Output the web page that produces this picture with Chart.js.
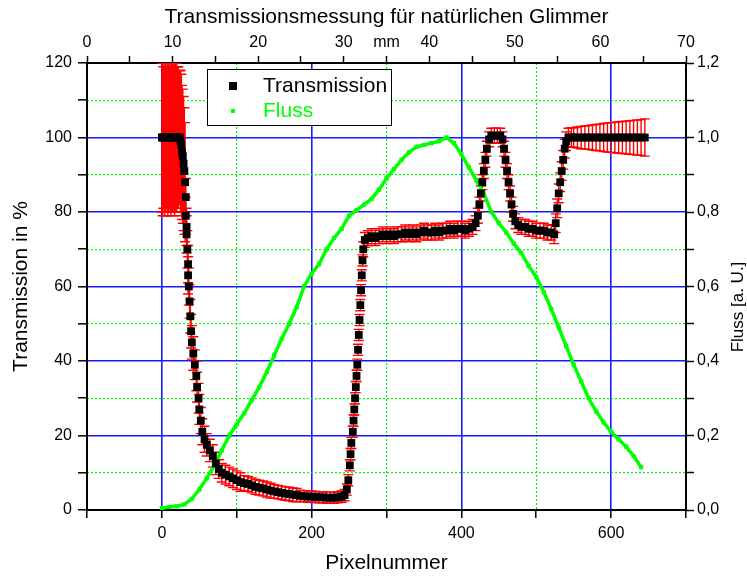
<!DOCTYPE html>
<html>
<head>
<meta charset="utf-8">
<script src="https://cdn.jsdelivr.net/npm/chart.js@4.4.1/dist/chart.umd.min.js"></script>
<style>
  html, body { margin: 0; padding: 0; background: #fff; }
  canvas { display: block; }
</style>
</head>
<body>
<canvas id="chart" width="747" height="576"></canvas>
<script>
// Transmission (black squares, left axis) with red error bars
const transPixel = [
  0, 1, 2, 3, 4, 5, 6, 7, 8, 9, 10, 11, 12, 13, 14, 15, 16, 17, 18, 19,
  20, 21, 22, 23, 24, 25, 26, 27, 28, 29, 30, 31, 32, 32, 33, 33, 34, 35, 35, 36,
  37, 38, 39, 40, 42, 44, 46, 47, 49, 50, 52, 54, 57, 60, 64, 68, 72, 76, 80, 85,
  90, 95, 100, 105, 110, 115, 120, 125, 130, 135, 140, 145, 150, 155, 160, 165, 170, 175, 180, 185,
  190, 195, 200, 205, 210, 215, 220, 225, 230, 235, 240, 244, 247, 249, 251, 252, 253, 255, 256, 257,
  258, 259, 260, 261, 262, 263, 264, 265, 266, 267, 268, 269, 271, 275, 280, 285, 290, 295, 300, 305,
  310, 315, 320, 325, 330, 335, 340, 345, 350, 355, 360, 365, 370, 375, 380, 385, 390, 395, 400, 405,
  410, 415, 419, 422, 424, 426, 428, 430, 432, 434, 437, 440, 444, 448, 452, 455, 457, 459, 461, 463,
  465, 467, 469, 472, 476, 480, 485, 490, 495, 500, 505, 510, 515, 520, 524, 526, 528, 530, 532, 534,
  536, 538, 540, 543, 547, 550, 555, 560, 565, 570, 575, 580, 585, 590, 595, 600, 605, 610, 615, 620,
  625, 630, 635, 640, 645
];
const transValue = [
  100, 100, 100, 100, 100, 100, 100, 100, 100, 100, 100, 100, 100, 100, 100, 100, 100, 100, 100, 100,
  100, 100, 100, 100, 100, 99, 98, 96, 95, 93, 91, 88, 84, 79, 76, 74, 70, 66, 63, 60,
  56, 52, 48, 45, 42, 39, 36, 33, 30, 27, 24, 21, 19, 17.5, 16, 14.5, 12.5, 11, 10, 9.5,
  9, 8.5, 8, 7.5, 7.2, 7, 6.6, 6.2, 6, 5.8, 5.5, 5.2, 5, 4.8, 4.6, 4.4, 4.3, 4.1, 4, 3.8,
  3.7, 3.6, 3.6, 3.5, 3.4, 3.4, 3.3, 3.3, 3.3, 3.4, 3.6, 4, 5.5, 8, 12, 15, 18, 21, 24, 27,
  30, 33, 36, 39, 43, 47, 51, 55, 59, 63, 67, 70, 72.5, 73, 73.5, 73, 73.5, 74, 73.5, 74,
  73.5, 74, 74, 74.5, 74, 74.5, 74, 74.5, 75, 74.5, 74.5, 75, 74.5, 75, 75, 75.5, 75, 75.5, 75.5, 75,
  75.5, 76, 77, 79, 82, 85, 88, 91, 94, 97, 99.5, 100.5, 100.5, 100.5, 100.5, 99.5, 97, 94, 91, 88,
  85, 82, 79.5, 77.5, 76.5, 76, 76, 75.5, 75.5, 75, 75, 75, 74.5, 74.5, 74, 77, 81, 85, 88, 91,
  94, 97, 99, 100, 100, 100, 100, 100, 100, 100, 100, 100, 100, 100, 100, 100, 100, 100, 100, 100,
  100, 100, 100, 100, 100
];
const transError = [
  20, 21, 19, 20, 21, 20, 19, 20, 21, 20, 19, 20, 21, 20, 20, 19, 20, 21, 20, 19,
  20, 19, 19, 18, 18, 19, 19, 18, 18, 18, 17, 16, 5, 5, 5, 5, 5, 5, 5, 5,
  4.5, 4.5, 4.5, 4.5, 4.5, 4, 4, 4, 4, 4, 3.5, 3.5, 3.5, 3, 3, 3, 3, 2.5, 2.5, 2.5,
  2.5, 2.5, 2.5, 2.5, 2, 2, 2, 2, 2, 2, 2, 2, 1.8, 1.8, 1.8, 1.8, 1.8, 1.8, 1.8, 1.5,
  1.5, 1.5, 1.5, 1.5, 1.5, 1.5, 1.5, 1.5, 1.5, 1.5, 1.5, 1.5, 1.5, 1.5, 1.5, 1.5, 1.5, 1.5, 1.5, 1.5,
  1.5, 1.5, 1.5, 1.5, 1.5, 1.5, 1.5, 1.5, 1.5, 1.5, 1.5, 2, 2, 2, 2, 2, 2, 2, 2, 2,
  2, 2, 2, 2, 2, 2, 2, 2, 2, 2, 2, 2, 2, 2, 2, 2, 2, 2, 2, 2,
  2, 2, 2, 2, 2, 2, 2, 2, 2, 2, 2, 2, 2, 2, 2, 2, 2, 2, 2, 2,
  2, 2, 2, 2, 2, 2, 2, 2, 2, 2, 2, 2, 2, 2, 2.5, 2.5, 2.5, 2.5, 2.5, 2.5,
  2.5, 2.5, 2.5, 2.5, 2.6, 2.6, 2.8, 3, 3.1, 3.2, 3.4, 3.5, 3.6, 3.8, 3.9, 4, 4.1, 4.2, 4.3, 4.4,
  4.5, 4.6, 4.7, 4.8, 5
];

// Fluss (green, right axis)
const flussPixel = [
  0, 10, 20, 30, 40, 50, 60, 70, 80, 90, 100, 110, 120, 130, 140, 150, 160, 170, 180, 190,
  200, 210, 220, 230, 240, 250, 260, 270, 280, 290, 300, 310, 320, 330, 340, 350, 360, 370, 380, 390,
  400, 410, 420, 430, 440, 450, 460, 470, 480, 490, 500, 510, 520, 530, 540, 550, 560, 570, 580, 590,
  600, 610, 620, 630, 640
];
const flussValue = [
  0.005, 0.008, 0.01, 0.015, 0.03, 0.055, 0.085, 0.12, 0.16, 0.2, 0.23, 0.26, 0.295, 0.33, 0.37, 0.415, 0.46, 0.5, 0.545, 0.6,
  0.635, 0.66, 0.7, 0.73, 0.755, 0.79, 0.805, 0.82, 0.835, 0.86, 0.89, 0.915, 0.94, 0.96, 0.975, 0.98, 0.985, 0.99, 1.0, 0.985,
  0.955, 0.92, 0.885, 0.85, 0.8, 0.77, 0.745, 0.715, 0.69, 0.655, 0.625, 0.585, 0.54, 0.49, 0.44, 0.39, 0.345, 0.3, 0.265, 0.235,
  0.21, 0.19, 0.17, 0.145, 0.115
];

// tick labels
const pixelLabels = [0, 200, 400, 600];
const mmLabels = [0, 10, 20, 30, 40, 50, 60, 70];
const percentLabels = [0, 20, 40, 60, 80, 100, 120];
const flussLabels = [0, 2, 4, 6, 8, 10, 12]; // in tenths

const FONT = "'Liberation Sans', Arial, sans-serif";
const GREEN = "#00ff00";
const BLUE = "#1a1aff";
const NONE = "rgba(0,0,0,0)";

Chart.defaults.font.family = FONT;
Chart.defaults.color = "#000";

const errorBarPlugin = {
  id: "errorBars",
  beforeDatasetsDraw(chart) {
    const { ctx, chartArea, scales } = chart;
    ctx.save();
    ctx.beginPath();
    ctx.rect(chartArea.left, chartArea.top, chartArea.right - chartArea.left, chartArea.bottom - chartArea.top);
    ctx.clip();
    ctx.strokeStyle = "#ff0000";
    ctx.lineWidth = 1.4;
    transPixel.forEach((p, i) => {
      const x = scales.x.getPixelForValue(p);
      const yTop = scales.y.getPixelForValue(transValue[i] + transError[i]);
      const yBot = scales.y.getPixelForValue(transValue[i] - transError[i]);
      ctx.beginPath();
      ctx.moveTo(x, yTop);
      ctx.lineTo(x, yBot);
      ctx.moveTo(x - 5, yTop);
      ctx.lineTo(x + 5, yTop);
      ctx.moveTo(x - 5, yBot);
      ctx.lineTo(x + 5, yBot);
      ctx.stroke();
    });
    ctx.restore();
  },
};

// legend box and the right axis title (reads bottom to top)
const annotationPlugin = {
  id: "boxLegend",
  afterDraw(chart) {
    const { ctx, chartArea } = chart;
    const left = chartArea.left + 120;
    const top = chartArea.top + 6;
    ctx.save();
    ctx.fillStyle = "#fff";
    ctx.fillRect(left, top, 184, 56);
    ctx.strokeStyle = "#000";
    ctx.lineWidth = 1;
    ctx.strokeRect(left + 0.5, top + 0.5, 184, 56);
    ctx.fillStyle = "#000";
    ctx.fillRect(left + 22, top + 13, 8, 8);
    ctx.fillStyle = GREEN;
    ctx.fillRect(left + 24, top + 40, 4, 4);
    ctx.font = "21px " + FONT;
    ctx.textBaseline = "middle";
    ctx.fillStyle = "#000";
    ctx.fillText("Transmission", left + 56, top + 17);
    ctx.fillStyle = GREEN;
    ctx.fillText("Fluss", left + 56, top + 42);

    ctx.translate(chart.width - 9, chartArea.top + 244);
    ctx.rotate(-Math.PI / 2);
    ctx.font = "17px " + FONT;
    ctx.fillStyle = "#000";
    ctx.textAlign = "center";
    ctx.fillText("Fluss [a. U.]", 0, 0);
    ctx.restore();
  },
};

const tickFont = { size: 16 };
const titleFont = { size: 21 };

new Chart(document.getElementById("chart").getContext("2d"), {
  type: "scatter",
  data: {
    datasets: [
      {
        label: "Transmission",
        data: transPixel.map((x, i) => ({ x: x, y: transValue[i] })),
        xAxisID: "x",
        yAxisID: "y",
        pointStyle: "rect",
        pointRadius: 5.5,
        pointBackgroundColor: "#000",
        pointBorderColor: "#000",
        pointBorderWidth: 0,
        showLine: false,
        order: 0,
      },
      {
        label: "Fluss",
        data: flussPixel.map((x, i) => ({ x: x, y: flussValue[i] })),
        xAxisID: "x",
        yAxisID: "y2",
        pointStyle: "rect",
        pointRadius: 3,
        pointBackgroundColor: GREEN,
        pointBorderColor: GREEN,
        pointBorderWidth: 0,
        borderColor: GREEN,
        borderWidth: 3.5,
        showLine: true,
        order: 1,
      },
    ],
  },
  options: {
    responsive: false,
    animation: false,
    layout: { padding: 0 },
    plugins: {
      legend: { display: false },
      tooltip: { enabled: false },
      title: { display: false },
    },
    scales: {
      x: {
        type: "linear",
        position: "bottom",
        min: -100,
        max: 700,
        ticks: {
          stepSize: 100,
          autoSkip: false,
          maxRotation: 0,
          font: tickFont,
          padding: 6,
          callback: (v) => (pixelLabels.includes(v) ? String(v) : ""),
        },
        grid: {
          color: (c) => (c.tick && pixelLabels.includes(c.tick.value) ? BLUE : NONE),
          lineWidth: 1.6,
          tickColor: "#000",
          tickWidth: 1.5,
          tickLength: 8,
        },
        border: { color: "#000", width: 2 },
        title: { display: true, text: "Pixelnummer", font: titleFont, padding: { top: 4, bottom: 0 } },
        afterFit: (s) => { s.height = 66; },
      },
      xMinor: {
        type: "linear",
        position: "bottom",
        min: -100,
        max: 700,
        ticks: { display: false, stepSize: 100 },
        grid: {
          color: (c) => (c.tick && c.tick.value > 0 && c.tick.value < 700 && c.tick.value % 200 === 100 ? GREEN : NONE),
          lineWidth: 1.2,
          drawTicks: false,
        },
        border: { display: false, dash: [2, 2] },
        afterFit: (s) => { s.height = 0; },
      },
      x2: {
        type: "linear",
        position: "top",
        min: 0,
        max: 70,
        ticks: {
          stepSize: 5,
          autoSkip: false,
          maxRotation: 0,
          font: tickFont,
          padding: 4,
          callback: (v) => (mmLabels.includes(v) ? String(v) : v === 35 ? "mm" : ""),
        },
        grid: { drawOnChartArea: false, tickColor: "#000", tickWidth: 1.5, tickLength: 7 },
        border: { color: "#000", width: 2 },
        title: {
          display: true,
          text: "Transmissionsmessung für natürlichen Glimmer",
          font: titleFont,
          padding: { top: 5, bottom: 4 },
        },
        afterFit: (s) => { s.height = 63; },
      },
      y: {
        type: "linear",
        position: "left",
        min: 0,
        max: 120,
        ticks: {
          stepSize: 10,
          autoSkip: false,
          font: tickFont,
          padding: 6,
          callback: (v) => (percentLabels.includes(v) ? String(v) : ""),
        },
        grid: {
          color: (c) => (c.tick && c.tick.value > 0 && c.tick.value < 120 && c.tick.value % 20 === 0 ? BLUE : NONE),
          lineWidth: 1.6,
          tickColor: "#000",
          tickWidth: 1.5,
          tickLength: 9,
        },
        border: { color: "#000", width: 2 },
        title: { display: true, text: "Transmission in %", font: titleFont, padding: { top: 9, bottom: 4 } },
        afterFit: (s) => { s.width = 87; },
      },
      yMinor: {
        type: "linear",
        position: "left",
        min: 0,
        max: 120,
        ticks: { display: false, stepSize: 10 },
        grid: {
          color: (c) => (c.tick && c.tick.value % 20 === 10 ? GREEN : NONE),
          lineWidth: 1.2,
          drawTicks: false,
        },
        border: { display: false, dash: [2, 2] },
        afterFit: (s) => { s.width = 0; },
      },
      y2: {
        type: "linear",
        position: "right",
        min: 0,
        max: 1.2,
        ticks: {
          stepSize: 0.1,
          autoSkip: false,
          font: tickFont,
          padding: 3,
          callback: (v) => {
            const tenths = Math.round(v * 10);
            return flussLabels.includes(tenths) ? (tenths / 10).toFixed(1).replace(".", ",") : "";
          },
        },
        grid: { drawOnChartArea: false, tickColor: "#000", tickWidth: 1.5, tickLength: 8 },
        border: { color: "#000", width: 2 },
        title: { display: false },
        afterFit: (s) => { s.width = 61; },
      },
    },
  },
  plugins: [errorBarPlugin, annotationPlugin],
});
</script>
</body>
</html>
